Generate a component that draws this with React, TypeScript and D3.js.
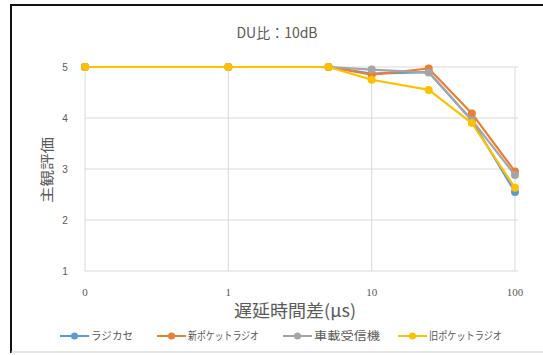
import React, { useEffect, useRef } from "react";
import * as d3 from "d3";

const width = 543;
const height = 355;

// x = 0 is placed at 0.1 on the log axis
const delays = [0, 1, 5, 10, 25, 50, 100];
const xTicks = [0, 1, 10, 100];
const yTicks = [1, 2, 3, 4, 5];

const seriesNames = ["ラジカセ", "新ポケットラジオ", "車載受信機", "旧ポケットラジオ"];
const colors = ["#5B9BD5", "#ED7D31", "#A5A5A5", "#FFC000"];

const radicase = [5, 5, 5, 4.87, 4.9, 3.95, 2.55];
const newPocket = [5, 5, 5, 4.85, 4.97, 4.09, 2.95];
const carReceiver = [5, 5, 5, 4.95, 4.89, 3.96, 2.88];
const oldPocket = [5, 5, 5, 4.75, 4.55, 3.9, 2.63];

const seriesValues = [radicase, newPocket, carReceiver, oldPocket];

const toLog = (v: number) => (v === 0 ? 0.1 : v);

function App() {
    const ref = useRef<SVGSVGElement>(null);

    useEffect(() => {
        const svg = d3.select(ref.current);
        svg.selectAll("*").remove();

        const x = d3.scaleLog().domain([0.1, 100]).range([85, 515]);
        const y = d3.scaleLinear().domain([1, 5]).range([271, 67]);

        // frame
        svg.append("rect").attr("width", width).attr("height", height).attr("fill", "white");
        svg.append("line").attr("x1", 11).attr("x2", width).attr("y1", 5).attr("y2", 5)
            .attr("stroke", "#111").attr("stroke-width", 2);
        svg.append("line").attr("x1", 11).attr("x2", 11).attr("y1", 4).attr("y2", 353)
            .attr("stroke", "#111").attr("stroke-width", 2);
        svg.append("line").attr("x1", 11).attr("x2", width).attr("y1", 352).attr("y2", 352)
            .attr("stroke", "#ccc").attr("stroke-width", 1);

        svg.append("text")
            .attr("x", 277).attr("y", 38)
            .attr("text-anchor", "middle")
            .attr("font-family", "'Noto Sans CJK JP', sans-serif")
            .attr("font-size", 14)
            .attr("fill", "#595959")
            .text("DU比：10dB");

        const grid = svg.append("g").attr("stroke", "#d9d9d9").attr("stroke-width", 1);
        grid.selectAll("line.h")
            .data(yTicks)
            .join("line")
            .attr("class", "h")
            .attr("x1", 85).attr("x2", 518)
            .attr("y1", d => y(d)).attr("y2", d => y(d));
        grid.selectAll("line.v")
            .data(xTicks)
            .join("line")
            .attr("class", "v")
            .attr("y1", 67).attr("y2", 271)
            .attr("x1", d => x(toLog(d))).attr("x2", d => x(toLog(d)));

        svg.append("g")
            .attr("font-family", "'Liberation Sans', sans-serif")
            .attr("font-size", 10)
            .attr("fill", "#595959")
            .attr("text-anchor", "middle")
            .selectAll("text")
            .data(yTicks)
            .join("text")
            .attr("x", 65)
            .attr("y", d => y(d) + 4)
            .text(d => d);

        svg.append("g")
            .attr("font-family", "'Liberation Serif', serif")
            .attr("font-size", 11)
            .attr("fill", "#595959")
            .attr("text-anchor", "middle")
            .selectAll("text")
            .data(xTicks)
            .join("text")
            .attr("x", d => x(toLog(d)))
            .attr("y", 296)
            .text(d => d);

        svg.append("text")
            .attr("x", 295).attr("y", 317)
            .attr("text-anchor", "middle")
            .attr("font-family", "'Noto Sans CJK JP', sans-serif")
            .attr("font-size", 17)
            .attr("fill", "#595959")
            .attr("textLength", 122)
            .attr("lengthAdjust", "spacingAndGlyphs")
            .text("遅延時間差(μs)");

        svg.append("text")
            .attr("transform", "translate(52,170) rotate(-90)")
            .attr("text-anchor", "middle")
            .attr("font-family", "'Noto Sans CJK JP', sans-serif")
            .attr("font-size", 14)
            .attr("fill", "#595959")
            .attr("textLength", 66)
            .attr("lengthAdjust", "spacingAndGlyphs")
            .text("主観評価");

        const line = d3.line<number>()
            .x((_, i) => x(toLog(delays[i])))
            .y(d => y(d));

        const series = svg.append("g")
            .selectAll("g")
            .data(seriesValues)
            .join("g");

        series.append("path")
            .attr("fill", "none")
            .attr("stroke", (_, i) => colors[i])
            .attr("stroke-width", 2.2)
            .attr("stroke-linejoin", "round")
            .attr("d", d => line(d));

        series.each(function (vals, i) {
            d3.select(this).selectAll("circle")
                .data(vals)
                .join("circle")
                .attr("cx", (_, j) => x(toLog(delays[j])))
                .attr("cy", d => y(d))
                .attr("r", 4)
                .attr("fill", colors[i]);
        });

        // legend
        const legendX = [60, 157, 283, 398];
        const legendTextW = [42, 71, 66, 73];
        const legend = svg.append("g")
            .selectAll("g")
            .data(seriesNames)
            .join("g")
            .attr("transform", (_, i) => `translate(${legendX[i]},336)`);

        legend.append("line")
            .attr("x1", 0).attr("x2", 29)
            .attr("stroke", (_, i) => colors[i])
            .attr("stroke-width", 2);
        legend.append("circle")
            .attr("cx", 14.5).attr("r", 3.5)
            .attr("fill", (_, i) => colors[i]);
        legend.append("text")
            .attr("x", 31).attr("y", 4)
            .attr("font-family", "'Noto Sans CJK JP', sans-serif")
            .attr("font-size", 11)
            .attr("fill", "#595959")
            .attr("textLength", (_, i) => legendTextW[i])
            .attr("lengthAdjust", "spacingAndGlyphs")
            .text(d => d);
    }, []);

    return (
        <svg ref={ref} width={width} height={height}
            style={{ position: "absolute", left: 0, top: 0 }} />
    );
}

export default App;
